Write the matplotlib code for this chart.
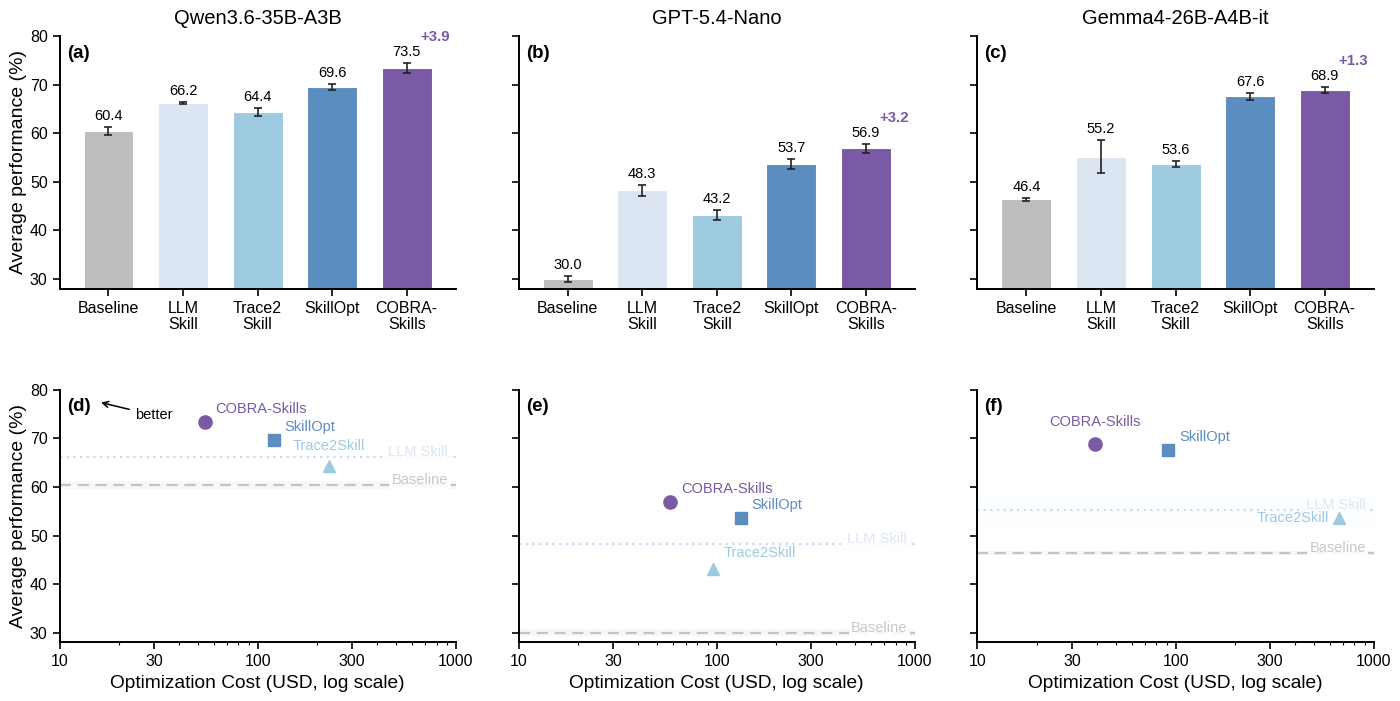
import matplotlib
matplotlib.use("Agg")
import matplotlib.pyplot as plt
import numpy as np

plt.rcParams['font.family'] = ['Liberation Sans', 'DejaVu Sans']

# ---------------- data ----------------
models = ["Qwen3.6-35B-A3B", "GPT-5.4-Nano", "Gemma4-26B-A4B-it"]
methods = ["Baseline", "LLM Skill", "Trace2Skill", "SkillOpt", "COBRA-Skills"]
bar_labels = ["Baseline", "LLM\nSkill", "Trace2\nSkill", "SkillOpt", "COBRA-\nSkills"]

perf_qwen = [60.4, 66.2, 64.4, 69.6, 73.5]
err_qwen = [0.8, 0.27, 0.75, 0.6, 1.0]
perf_gpt = [30.0, 48.3, 43.2, 53.7, 56.9]
err_gpt = [0.7, 1.1, 0.95, 1.1, 0.9]
perf_gemma = [46.4, 55.2, 53.6, 67.6, 68.9]
err_gemma = [0.35, 3.4, 0.6, 0.7, 0.6]
gains = ["+3.9", "+3.2", "+1.3"]

# optimization cost (USD) for Trace2Skill, SkillOpt, COBRA-Skills
cost_qwen = [230, 121, 54]
cost_gpt = [96, 133, 58]
cost_gemma = [670, 92, 39]

perfs = [perf_qwen, perf_gpt, perf_gemma]
errs = [err_qwen, err_gpt, err_gemma]
costs = [cost_qwen, cost_gpt, cost_gemma]

# ---------------- style ----------------
colors = ["#bdbdbd", "#dce6f2", "#9ecae1", "#5b8dc1", "#7a59a5"]
line_colors = ["#c4c4c4", "#c9dcef"]
label_colors = ["#c8c8c8", "#dce6f2"]
band_alpha = [0.11, 0.06]
markers = ["^", "s", "o"]
msizes = [9, 8.5, 9.5]

# per-panel label offsets in pixels (Trace2Skill, SkillOpt, COBRA-Skills)
offsets = [
    [((0, 13), "center", "bottom"), ((10, 6), "left", "bottom"), ((11, 6), "left", "bottom")],
    [((10, 9), "left", "bottom"), ((10, 6), "left", "bottom"), ((11, 6), "left", "bottom")],
    [((-10, 0), "right", "center"), ((11, 6), "left", "bottom"), ((0, 15), "center", "bottom")],
]

fig = plt.figure(figsize=(14, 7.01), dpi=100)
lefts = [0.0425, 0.3704, 0.6982]
w = 0.283
top_b, top_h = 0.588, 0.3605
bot_b, bot_h = 0.0837, 0.36

x = np.arange(len(methods))
letters_top = ["(a)", "(b)", "(c)"]
letters_bot = ["(d)", "(e)", "(f)"]

for i in range(3):
    # ---- bar panel ----
    ax = fig.add_axes([lefts[i], top_b, w, top_h])
    p = perfs[i]; e = errs[i]
    ax.bar(x, p, width=0.67, color=colors, edgecolor="white", linewidth=0.8, zorder=2)
    ax.errorbar(x, p, yerr=e, fmt="none", ecolor="#222222", elinewidth=1.2,
                capsize=3.2, capthick=1.2, zorder=3)
    for j in range(len(x)):
        ax.annotate(f"{p[j]:.1f}", (x[j], p[j] + e[j]), xytext=(0, 4),
                    textcoords="offset pixels", ha="center", va="bottom", fontsize=10.5)
    ax.annotate(gains[i], (x[-1], p[-1] + e[-1]), xytext=(28, 19),
                textcoords="offset pixels", ha="center", va="bottom", fontsize=10.8,
                fontweight="bold", color=colors[-1])
    ax.set_xlim(-0.657, 4.657)
    ax.set_ylim(28, 80)
    ax.set_yticks([30, 40, 50, 60, 70, 80])
    ax.set_xticks(x)
    ax.set_xticklabels(bar_labels, fontsize=11.5, linespacing=1.1)
    ax.spines["top"].set_visible(False)
    ax.spines["right"].set_visible(False)
    for s in ["left", "bottom"]:
        ax.spines[s].set_linewidth(1.4)
    ax.tick_params(axis="both", width=1.2, length=5, labelsize=11.5)
    if i == 0:
        ax.set_ylabel("Average performance (%)", fontsize=14, labelpad=2)
    else:
        ax.set_yticklabels([])
    ax.set_title(models[i], fontsize=14.5, pad=9)
    ax.text(0.018, 0.933, letters_top[i], transform=ax.transAxes, fontsize=13.5,
            fontweight="bold", ha="left", va="center")

    # ---- scatter panel ----
    ax2 = fig.add_axes([lefts[i], bot_b, w, bot_h])
    ax2.set_xscale("log")
    ax2.set_xlim(10, 1000)
    ax2.set_ylim(28, 80)
    xs = np.array([10, 1000])
    # horizontal reference lines: Baseline and LLM Skill
    for k, (idx, ls, name) in enumerate([(0, (0, (5, 3)), "Baseline"), (1, (0, (1, 2)), "LLM Skill")]):
        ax2.fill_between(xs, p[idx] - e[idx], p[idx] + e[idx], color=colors[idx],
                         alpha=band_alpha[k], linewidth=0, zorder=1)
        ax2.axhline(p[idx], color=line_colors[k], linestyle=ls, linewidth=1.6, zorder=2)
        ax2.annotate(name, (915, p[idx]), xytext=(0, 5), textcoords="offset pixels",
                     ha="right", va="center", fontsize=10.5, color=label_colors[k],
                     bbox=dict(boxstyle="square,pad=0.15", fc="white", ec="none", alpha=0.85),
                     zorder=3)
    for k in range(3):
        idx = k + 2
        ax2.plot(costs[i][k], p[idx], marker=markers[k], ms=msizes[k], color=colors[idx],
                 linestyle="none", zorder=4)
        off, ha, va = offsets[i][k]
        ax2.annotate(methods[idx], (costs[i][k], p[idx]), xytext=off,
                     textcoords="offset pixels", ha=ha, va=va, fontsize=10.5,
                     color=colors[idx], zorder=5)
    ax2.set_xticks([10, 30, 100, 300, 1000])
    ax2.set_xticklabels(["10", "30", "100", "300", "1000"])
    ax2.set_yticks([30, 40, 50, 60, 70, 80])
    ax2.spines["top"].set_visible(False)
    ax2.spines["right"].set_visible(False)
    for s in ["left", "bottom"]:
        ax2.spines[s].set_linewidth(1.4)
    ax2.tick_params(axis="both", which="major", width=1.2, length=5, labelsize=11.5)
    ax2.tick_params(axis="x", which="minor", width=0.8, length=2.5)
    ax2.set_xlabel("Optimization Cost (USD, log scale)", fontsize=13.8)
    if i == 0:
        ax2.set_ylabel("Average performance (%)", fontsize=14, labelpad=2)
        ax2.annotate("better", xy=(16.2, 77.4), xytext=(24, 74.8), fontsize=10.5,
                     ha="left", va="center",
                     arrowprops=dict(arrowstyle="->", color="black", lw=1.1,
                                     shrinkA=2, shrinkB=0))
    else:
        ax2.set_yticklabels([])
    ax2.text(0.018, 0.933, letters_bot[i], transform=ax2.transAxes, fontsize=13.5,
             fontweight="bold", ha="left", va="center")

fig.savefig("out.png", dpi=100)
